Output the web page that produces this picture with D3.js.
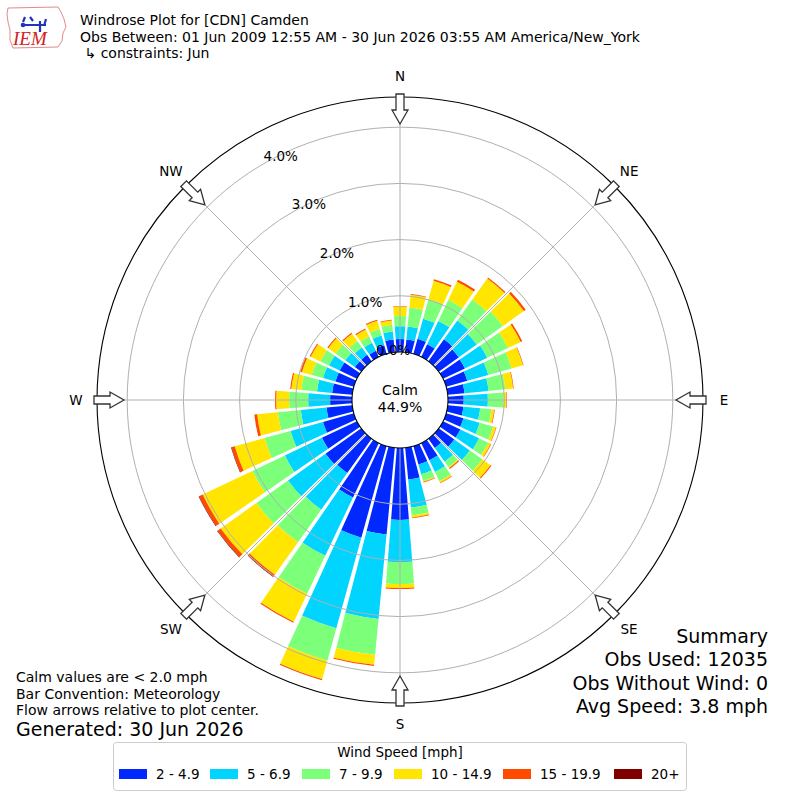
<!DOCTYPE html>
<html>
<head>
<meta charset="utf-8">
<script src="https://cdn.jsdelivr.net/npm/d3@7"></script>
<style>
  body { margin: 0; background: #fff; }
  svg { display: block; font-family: "DejaVu Sans", sans-serif; }
</style>
</head>
<body>
<svg id="main"></svg>
<script>
// wind directions (deg, meteorological, from north clockwise)
let directions = [0, 10, 20, 30, 40, 50, 60, 70, 80, 90, 100, 110, 120, 130, 140, 150, 160, 170,
                  180, 190, 200, 210, 220, 230, 240, 250, 260, 270, 280, 290, 300, 310, 320, 330, 340, 350]

// percent of obs per speed bin, one value per direction
let spd2to5 = [0.23, 0.23, 0.28, 0.25, 0.48, 0.44, 0.43, 0.39, 0.30, 0.28, 0.28, 0.32, 0.34, 0.34, 0.20, 0.34, 0.34, 0.57,
               1.28, 1.55, 1.69, 1.07, 0.75, 0.78, 0.69, 0.57, 0.46, 0.39, 0.36, 0.34, 0.34, 0.14, 0.14, 0.12, 0.16, 0.23]
let spd5to7 = [0.23, 0.23, 0.37, 0.46, 0.41, 0.39, 0.44, 0.39, 0.43, 0.43, 0.30, 0.30, 0.37, 0.34, 0.30, 0.23, 0.18, 0.50,
               0.75, 1.51, 1.67, 1.15, 0.80, 0.82, 0.73, 0.60, 0.46, 0.39, 0.27, 0.23, 0.21, 0.21, 0.16, 0.16, 0.18, 0.14]
let spd7to10 = [0.18, 0.34, 0.36, 0.41, 0.46, 0.57, 0.41, 0.43, 0.30, 0.28, 0.20, 0.25, 0.18, 0.27, 0.12, 0.18, 0.12, 0.14,
                0.39, 0.64, 0.60, 0.75, 0.71, 0.69, 0.64, 0.48, 0.41, 0.34, 0.28, 0.21, 0.17, 0.21, 0.14, 0.12, 0.12, 0.12]
let spd10to15 = [0.17, 0.23, 0.34, 0.36, 0.46, 0.46, 0.25, 0.21, 0.14, 0.05, 0.05, 0.05, 0.05, 0.18, 0.02, 0.03, 0.02, 0.04,
                 0.07, 0.18, 0.34, 0.55, 0.71, 0.78, 0.98, 0.55, 0.37, 0.23, 0.18, 0.18, 0.19, 0.16, 0.16, 0.14, 0.15, 0.08]
let spd15to20 = [0.01, 0.01, 0.03, 0.04, 0.02, 0.04, 0.03, 0.01, 0.01, 0.01, 0.01, 0.01, 0.01, 0.02, 0.02, 0.01, 0.01, 0.01,
                 0.02, 0.02, 0.02, 0.02, 0.04, 0.07, 0.07, 0.06, 0.05, 0.02, 0.02, 0.03, 0.02, 0.02, 0.02, 0.02, 0.02, 0.01]
let spd20plus = [0, 0, 0, 0, 0, 0, 0, 0, 0, 0, 0, 0, 0, 0, 0, 0, 0, 0,
                 0, 0, 0, 0, 0.01, 0.01, 0.01, 0.01, 0, 0, 0, 0, 0, 0, 0, 0, 0, 0]

let speedLabels = ['2 - 4.9', '5 - 6.9', '7 - 9.9', '10 - 14.9', '15 - 19.9', '20+']
let speedColors = ['#0028ff', '#00d4ff', '#7cff79', '#ffe500', '#ff4a00', '#800000']
let ringTicks = [0, 1, 2, 3, 4]
let compass = ['N', 'NE', 'E', 'SE', 'S', 'SW', 'W', 'NW']
let compassAngles = [0, 45, 90, 135, 180, 225, 270, 315]

let calmPct = '44.9%'
let summaryLines = ['Summary', 'Obs Used: 12035', 'Obs Without Wind: 0', 'Avg Speed: 3.8 mph']
let noteLines = ['Calm values are < 2.0 mph', 'Bar Convention: Meteorology', 'Flow arrows relative to plot center.']

let width = 800
let height = 800
let cx = 400
let cy = 400
let calmR = 48
let outerR = 303

let svg = d3.select('#main').attr('width', width).attr('height', height)

const rScale = d3.scaleLinear().domain([0, 4.537]).range([calmR, outerR])
const rad = d => d * Math.PI / 180

// header + logo
const drawHeader = () => {
    let logo = svg.append('g')
    logo.append('path')
        .attr('d', 'M8,8 L58,7 L61,12 L64,19 L66,27 L63,33 L62,41 L58,47 L13,48 L10,40 L10,30 L8,22 L7,14 Z')
        .attr('fill', 'none').attr('stroke', '#e38a8a').attr('stroke-width', 1)
    logo.append('path').attr('d', 'M22,25 L46,25 M40,21 L40,32 M30,17 L33,21 M46,19 L44,26 M23,22 L25,17')
        .attr('stroke', '#2233bb').attr('stroke-width', 2.2).attr('fill', 'none')
    logo.append('circle').attr('cx', 23).attr('cy', 25).attr('r', 2.3).attr('fill', '#2233bb')
    logo.append('text').attr('x', 13).attr('y', 45)
        .attr('font-family', '"Liberation Serif", serif').attr('font-style', 'italic')
        .attr('font-size', 19).attr('fill', '#d32020').text('IEM')

    let lines = ['Windrose Plot for [CDN] Camden',
                 'Obs Between: 01 Jun 2009 12:55 AM - 30 Jun 2026 03:55 AM America/New_York',
                 ' \u21b3 constraints: Jun']
    svg.selectAll('.title')
        .data(lines)
        .enter()
        .append('text')
        .attr('class', 'title')
        .attr('x', 80)
        .attr('y', (d, i) => 25 + i * 16.7)
        .attr('font-size', 14)
        .style('white-space', 'pre')
        .text(d => d)
}

const plotBars = () => {
    let series = [spd2to5, spd5to7, spd7to10, spd10to15, spd15to20, spd20plus]
    let segs = []
    directions.forEach((dir, i) => {
        let cum = 0
        series.forEach((s, j) => {
            let v = s[i]
            if (v > 0) {
                segs.push({ dir: dir, lo: cum, hi: cum + v, color: speedColors[j] })
            }
            cum += v
        })
    })
    let arc = d3.arc().padAngle(0.012).padRadius(100)
    svg.append('g')
        .attr('transform', `translate(${cx}, ${cy})`)
        .selectAll('path')
        .data(segs)
        .enter()
        .append('path')
        .attr('d', d => arc({
            innerRadius: rScale(d.lo),
            outerRadius: rScale(d.hi),
            startAngle: rad(d.dir - 4.55),
            endAngle: rad(d.dir + 4.55)
        }))
        .attr('fill', d => d.color)
}

const drawGrid = () => {
    let g = svg.append('g').attr('transform', `translate(${cx}, ${cy})`)
    g.selectAll('.ring')
        .data(ringTicks.slice(1))
        .enter()
        .append('circle')
        .attr('r', d => rScale(d))
        .attr('fill', 'none')
        .attr('stroke', '#b0b0b0')
        .attr('stroke-width', 1)
    g.selectAll('.spoke')
        .data(compassAngles)
        .enter()
        .append('line')
        .attr('x1', 0).attr('y1', 0)
        .attr('x2', d => outerR * Math.sin(rad(d)))
        .attr('y2', d => -outerR * Math.cos(rad(d)))
        .attr('stroke', '#b0b0b0')
        .attr('stroke-width', 1)
    g.append('circle').attr('r', outerR).attr('fill', 'none').attr('stroke', '#000').attr('stroke-width', 1.1)
    g.append('circle').attr('r', calmR).attr('fill', '#fff').attr('stroke', '#000').attr('stroke-width', 1.1)
    g.append('text').attr('y', -10).attr('text-anchor', 'middle').attr('dominant-baseline', 'central')
        .attr('font-size', 14).text('Calm')
    g.append('text').attr('y', 7).attr('text-anchor', 'middle').attr('dominant-baseline', 'central')
        .attr('font-size', 14).text(calmPct)

    // radial tick labels along 330 deg
    g.selectAll('.rlabel')
        .data(ringTicks)
        .enter()
        .append('text')
        .attr('x', d => rScale(d) * Math.sin(rad(330)))
        .attr('y', d => -rScale(d) * Math.cos(rad(330)) - 3)
        .attr('font-size', 13.5)
        .text(d => d.toFixed(1) + '%')

    // flow arrows
    let arrowPts = [[-4, -306], [-4, -290], [-8, -290], [0, -276], [8, -290], [4, -290], [4, -306]]
    g.selectAll('.arrow')
        .data(compassAngles)
        .enter()
        .append('polygon')
        .attr('transform', d => `rotate(${d})`)
        .attr('points', arrowPts.map(p => p.join(',')).join(' '))
        .attr('fill', '#fff')
        .attr('stroke', '#333')
        .attr('stroke-width', 1.3)

    g.selectAll('.clabel')
        .data(compass)
        .enter()
        .append('text')
        .attr('x', (d, i) => 324 * Math.sin(rad(compassAngles[i])))
        .attr('y', (d, i) => -324 * Math.cos(rad(compassAngles[i])))
        .attr('text-anchor', 'middle')
        .attr('dominant-baseline', 'central')
        .attr('font-size', 13.5)
        .text(d => d)
}

const drawNotes = () => {
    svg.selectAll('.summary')
        .data(summaryLines)
        .enter()
        .append('text')
        .attr('x', 768)
        .attr('y', (d, i) => 643 + i * 23.3)
        .attr('text-anchor', 'end')
        .attr('font-size', 19)
        .text(d => d)

    svg.selectAll('.note')
        .data(noteLines)
        .enter()
        .append('text')
        .attr('x', 16)
        .attr('y', (d, i) => 682 + i * 16.5)
        .attr('font-size', 14)
        .text(d => d)
    svg.append('text').attr('x', 16).attr('y', 736).attr('font-size', 19).text('Generated: 30 Jun 2026')
}

const drawLegend = () => {
    let lg = svg.append('g')
    lg.append('rect')
        .attr('x', 113.5).attr('y', 742.5).attr('width', 573).attr('height', 48)
        .attr('rx', 3)
        .attr('fill', '#fff').attr('stroke', '#cccccc')
    lg.append('text').attr('x', 400).attr('y', 757).attr('text-anchor', 'middle')
        .attr('font-size', 13.5).text('Wind Speed [mph]')
    let xs = [119, 210, 302, 394, 503, 614]
    let items = lg.selectAll('.item')
        .data(speedLabels)
        .enter()
        .append('g')
        .attr('transform', (d, i) => `translate(${xs[i]}, 769)`)
    items.append('rect').attr('width', 28).attr('height', 10).attr('fill', (d, i) => speedColors[i])
    items.append('text').attr('x', 37).attr('y', 10).attr('font-size', 13.5).text(d => d)
}

drawHeader()
plotBars()
drawGrid()
drawNotes()
drawLegend()
</script>
</body>
</html>
